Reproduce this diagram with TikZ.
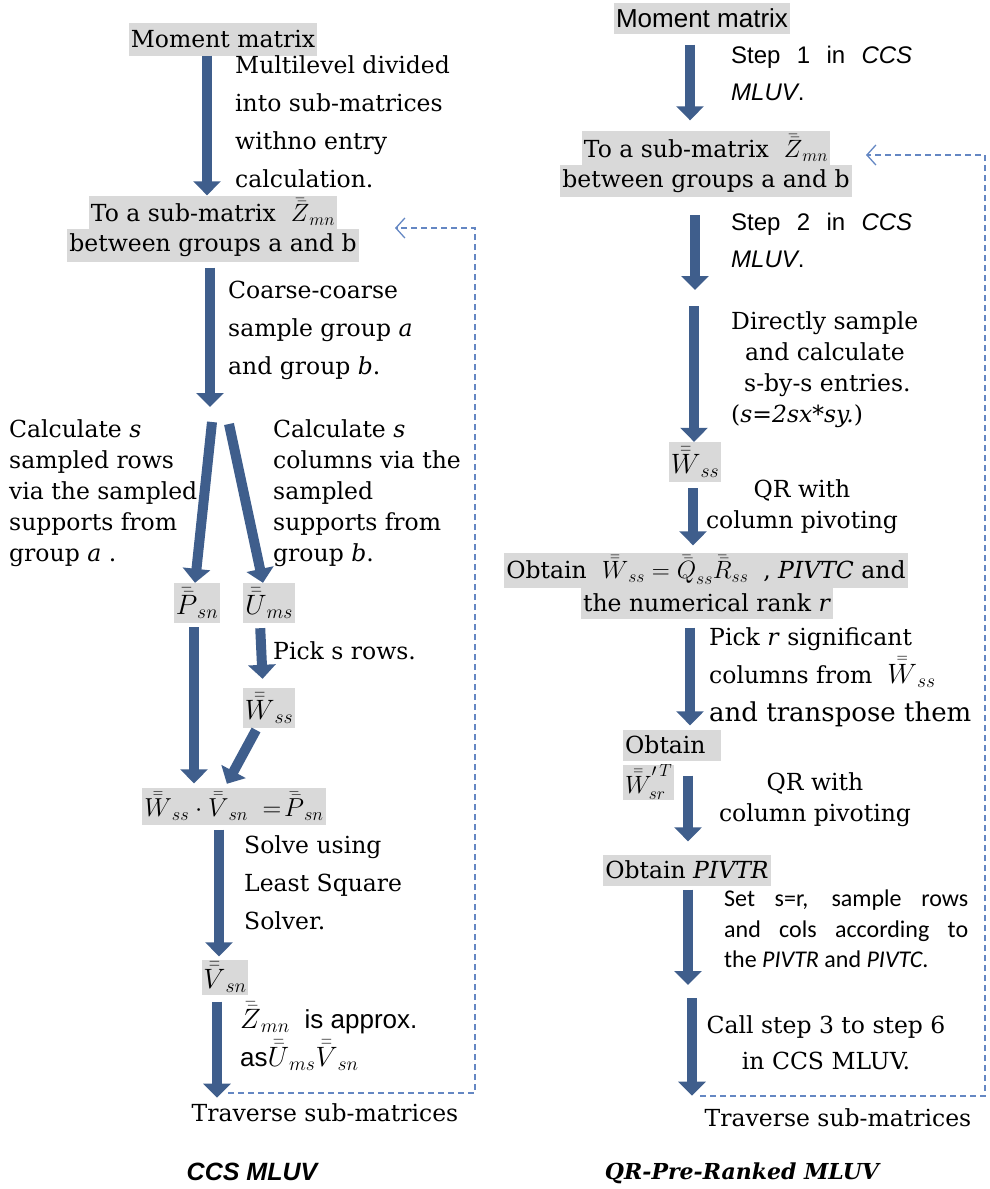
\RequirePackage{fix-cm}
\documentclass[tikz,border=0pt]{standalone}
\usepackage{fontspec}
\setmainfont{DejaVu Serif}
\setsansfont{Liberation Sans}
\newfontfamily\calib{Carlito}
\usetikzlibrary{arrows.meta}
\definecolor{ab}{RGB}{63,94,140}
\definecolor{hl}{RGB}{217,217,217}
\definecolor{dsh}{RGB}{100,135,195}
\newcommand\fzA{\fontsize{23.5}{38}\selectfont}
\newcommand\fzB{\fontsize{23.5}{31}\selectfont}
\newcommand\fzS{\fontsize{24}{37}\selectfont\sffamily}
\newcommand\dbar[1]{\bar{\bar{#1}}}
\newcommand\M[1]{{\fontsize{28}{30}\selectfont$#1$}}
\newcommand\Ms[1]{{\fontsize{25}{30}\selectfont$#1$}}
\begin{document}
\begin{tikzpicture}[x=1pt,y=-1pt,
 box/.style={fill=hl, inner xsep=2pt, inner ysep=0pt, minimum height=33pt, font=\fzA},
 lbl/.style={anchor=north west, align=left, inner sep=0pt, font=\fzA},
 lblB/.style={anchor=north west, align=left, inner sep=0pt, font=\fzB},
 fat/.style={draw=ab, line width=10pt, -{Triangle[length=14pt,width=27pt]}},
 back/.style={draw=dsh, line width=1.3pt, dash pattern=on 6pt off 4pt, -{Straight Barb[length=9pt,width=20pt]}}]
\useasboundingbox (0,0) rectangle (990,1189);
% ---------------- left column ----------------
\node[box] (mmL) at (223,39) {Moment matrix};
\node[box] (subLa) at (213,212) {To a sub-matrix \ \Ms{\dbar{Z}_{mn}}};
\node[box] (subLb) at (213,245) {between groups a and b};
\node[box, minimum height=40pt] (Psn) at (197,603) {\M{\dbar{P}_{sn}}};
\node[box, minimum height=40pt] (Ums) at (269,603) {\M{\dbar{U}_{ms}}};
\node[box, minimum height=40pt] (WssL) at (269,708) {\M{\dbar{W}_{ss}}};
\node[box, minimum height=37pt] (eq) at (234,806) {{\fontsize{26}{30}\selectfont$\dbar{W}_{ss}\cdot\dbar{V}_{sn}\;=\!\dbar{P}_{sn}$}};
\node[box, minimum height=35pt, inner xsep=1pt] (Vsn) at (225,977) {\M{\dbar{V}_{sn}}};
\node[font=\fzA, inner sep=0pt] (travL) at (325,1113) {Traverse sub-matrices};
\node[font=\fontsize{25}{28}\selectfont\sffamily\bfseries\itshape] (capL) at (252,1172) {CCS MLUV};

\coordinate (forkT) at (210,407);
\coordinate (forkL) at (212,422);
\coordinate (forkR) at (229,424);

\draw[fat] (mmL.south -| 207,0) -- (subLa.north -| 207,0);
\draw[fat, shorten <=6pt] (subLb.south -| 210,0) -- (forkT);
\draw[fat] (forkL) -- ([xshift=-2pt]Psn.north);
\draw[fat] (forkR) -- ([xshift=-6pt]Ums.north);
\draw[fat, shorten <=4pt, shorten >=4pt] (Psn.south -| 194,0) -- (eq.north -| 194,0);
\draw[fat, shorten <=5pt, shorten >=9pt] ([xshift=-9pt]Ums.south) -- ([xshift=-6pt]WssL.north);
\draw[fat, shorten <=2pt, shorten >=4pt] ([xshift=-12pt]WssL.south) -- ([xshift=-9pt]eq.north);
\draw[fat, shorten <=5pt, shorten >=3pt] (eq.south -| 219,0) -- (Vsn.north -| 219,0);
\draw[fat, shorten <=7pt, shorten >=6pt] (Vsn.south -| 217,0) -- (travL.north -| 217,0);

\coordinate (dL1) at (228,1093);
\coordinate (dLc) at (475,228);
\coordinate (dLe) at (395,228);
\draw[back] (dL1) -| (dLc) -- (dLe);

\node[lbl] (l1) at (235,55) {Multilevel divided\\into sub-matrices\\withno entry\\calculation.};
\node[lbl] (l2) at (228,281) {Coarse-coarse\\sample group \textit{a}\\and group \textit{b}.};
\node[lblB] (l3) at (9,419) {Calculate \textit{s}\\sampled rows\\via the sampled\\supports from\\group \textit{a} .};
\node[lblB] (l4) at (273,419) {Calculate \textit{s}\\columns via the\\sampled\\supports from\\group \textit{b}.};
\node[lbl] (l5) at (273,641) {Pick s rows.};
\node[lbl] (l6) at (244,835) {Solve using\\Least Square\\Solver.};
\node[lbl] (l7) at (240,1002) {\M{\dbar{Z}_{mn}}\ \ {\sffamily\fontsize{26}{38}\selectfont is approx.}\\{\sffamily\fontsize{26}{38}\selectfont as}\M{\dbar{U}_{ms}\dbar{V}_{sn}}};

% ---------------- right column ----------------
\node[box, font=\fontsize{26}{30}\selectfont\sffamily, minimum height=31pt] (mmR) at (702,18) {Moment matrix};
\node[box, minimum height=35pt] (subRa) at (706,148) {To a sub-matrix \ \Ms{\dbar{Z}_{mn}}};
\node[box, minimum height=32pt] (subRb) at (706,181) {between groups a and b};
\node[box, minimum height=40pt] (WssR) at (695,462) {\M{\dbar{W}_{ss}}};
\node[box, minimum height=35pt] (obtA) at (706,570) {Obtain \ \Ms{\dbar{W}_{ss}=\dbar{Q}_{ss}\dbar{R}_{ss}} \ , \textit{PIVTC} and};
\node[box, minimum height=31pt] (obtB) at (707,603) {the numerical rank \textit{r}};
\node[box, anchor=west, minimum height=31pt, text width=94pt, align=left] (obt2) at (623,745) {Obtain};
\node[box, anchor=west, minimum height=35pt, inner xsep=2pt] (Wp) at (623,782) {\Ms{\dbar{W}'^{\,T}_{\!sr}}};
\node[box, minimum height=31pt] (piv) at (687,870) {Obtain \textit{PIVTR}};
\node[font=\fzA, inner sep=0pt] (travR) at (838,1118) {Traverse sub-matrices};
\node[font=\fontsize{22}{25}\selectfont\bfseries\itshape] (capR) at (742,1173) {QR-Pre-Ranked MLUV};

\coordinate (gR1) at (695,290);
\coordinate (gR2) at (694,306);
\coordinate (gR3) at (688,985);
\coordinate (gR4) at (692,998);
\coordinate (dR1) at (700,1096);
\coordinate (dRc) at (985,155);
\coordinate (dRe) at (866,155);

\draw[fat, shorten <=11pt, shorten >=10pt] (mmR.south -| 690,0) -- (subRa.north -| 690,0);
\draw[fat, shorten <=18pt] (subRb.south -| 695,0) -- (gR1);
\draw[fat] (gR2) -- (WssR.north -| 694,0);
\draw[fat, shorten <=6pt, shorten >=7pt] (WssR.south -| 693,0) -- (obtA.north -| 693,0);
\draw[fat, shorten <=9pt, shorten >=4pt] (obtB.south -| 690,0) -- (obt2.north -| 690,0);
\draw[fat, shorten <=15pt, shorten >=13pt] (obt2.south -| 688,0) -- (piv.north -| 688,0);
\draw[fat, shorten <=4pt] (piv.south -| 688,0) -- (gR3);
\draw[fat, shorten >=13pt] (gR4) -- (travR.north -| 692,0);
\draw[back] (dR1) -| (dRc) -- (dRe);

\node[anchor=north west, inner sep=0pt, font=\fzS, text width=181pt, align=justify] (r1) at (731,46) {Step 1 in \textit{CCS}\linebreak \textit{MLUV}.};
\node[anchor=north west, inner sep=0pt, font=\fzS, text width=181pt, align=justify] (r2) at (731,213) {Step 2 in \textit{CCS}\linebreak \textit{MLUV}.};
\node[lblB] (r3) at (731,311) {Directly sample\\\hspace*{14pt}and calculate\\\hspace*{13pt}s-by-s entries.\\(\textit{s=2sx*sy.})};
\node[align=center, inner sep=0pt, font=\fzB] (r4) at (802,507) {QR with\\column pivoting};
\node[lbl] (r5) at (709,627) {Pick \textit{r} significant\\columns from \ \M{\dbar{W}_{ss}}\\{\fontsize{26}{30}\selectfont and transpose them}};
\node[align=center, inner sep=0pt, font=\fzB] (r6) at (815,800) {QR with\\column pivoting};
\node[anchor=north west, inner sep=0pt, font=\fontsize{24}{30.5}\selectfont\calib, text width=244pt, align=justify] (r7) at (724,890) {Set s=r, sample rows\linebreak and cols according to\linebreak the \textit{PIVTR} and \textit{PIVTC}.};
\node[align=center, inner sep=0pt, font=\fontsize{23.5}{36}\selectfont] (r8) at (826,1043) {Call step 3 to step 6\\in CCS MLUV.};
\end{tikzpicture}
\end{document}
